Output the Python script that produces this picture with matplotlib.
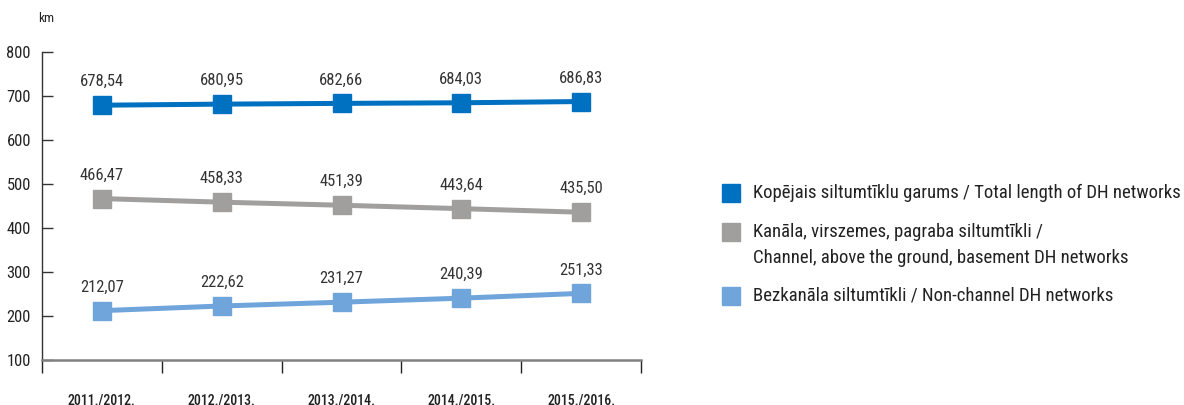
import matplotlib
matplotlib.use("Agg")
import matplotlib.pyplot as plt
from matplotlib.patches import Rectangle
from matplotlib import font_manager as fm

categories = ["2011./2012.", "2012./2013.", "2013./2014.", "2014./2015.", "2015./2016."]
total = [678.54, 680.95, 682.66, 684.03, 686.83]
channel = [466.47, 458.33, 451.39, 443.64, 435.50]
nonchannel = [212.07, 222.62, 231.27, 240.39, 251.33]
yticks = [100, 200, 300, 400, 500, 600, 700, 800]

series = [
    (total, "#0070C0", "Kopējais siltumtīklu garums / Total length of DH networks"),
    (channel, "#A09F9E", "Kanāla, virszemes, pagraba siltumtīkli /\nChannel, above the ground, basement DH networks"),
    (nonchannel, "#6FA5DA", "Bezkanāla siltumtīkli / Non-channel DH networks"),
]

# pick a condensed face if one is installed
fp_reg = None
fp_med = None
cands = []
for f in fm.fontManager.ttflist:
    low = f.fname.lower()
    if ("narrow" in low or "condensed" in low) and "italic" not in low and "oblique" not in low:
        cands.append(f)
pref = ["roboto", "liberation", "opensans", "open", "noto", "dejavu"]
def rank(f):
    low = f.fname.lower()
    for i, p in enumerate(pref):
        if p in low:
            return i
    return 99
def wnum(f):
    return f.weight if isinstance(f.weight, int) else (700 if "bold" in str(f.weight) else 400)
cands.sort(key=rank)
if cands:
    best = rank(cands[0])
    fam = [f for f in cands if rank(f) == best]
    regs = [f for f in fam if wnum(f) == 400 and "light" not in f.fname.lower() and "thin" not in f.fname.lower()]
    if regs:
        fp_reg = regs[0].fname
    meds = sorted([f for f in fam if 500 <= wnum(f) <= 700], key=lambda f: abs(wnum(f) - 500))
    if meds:
        fp_med = meds[0].fname
if fp_reg is not None:
    reg = dict(fontproperties=fm.FontProperties(fname=fp_reg))
    med = dict(fontproperties=fm.FontProperties(fname=fp_med if fp_med else fp_reg))
else:
    plt.rcParams['font.family'] = ['Liberation Sans', 'DejaVu Sans']
    reg = dict()
    med = dict()

W, H = 1184, 405
fig = plt.figure(figsize=(W / 100, H / 100), dpi=100)
renderer = fig.canvas.get_renderer()

def fitsize(text, target_px, props, weight="normal"):
    t = fig.text(0, 0, text, fontsize=10, fontweight=weight, **props)
    w = t.get_window_extent(renderer).width
    t.remove()
    return 10 * target_px / w

fs_leg = min(14, fitsize("Kopējais siltumtīklu garums / Total length of DH networks", 427, reg))
fs_dat = min(12.5, fitsize("678,54", 44, reg))
fs_tick = min(12.5, fitsize("800", 24, reg))
fs_x = min(11.5, fitsize("2011./2012.", 68, med, "bold" if fp_reg is None else "normal"))
fs_km = min(10.5, fitsize("km", 16, reg))

def P(props, size):
    if "fontproperties" in props:
        p = props["fontproperties"].copy()
        p.set_size(size)
        return dict(fontproperties=p)
    return dict(fontsize=size)

ax = fig.add_axes([42 / W, (H - 360) / H, 599 / W, (360 - 51.7) / H])

x = list(range(len(categories)))
for vals, col, lab in series:
    ax.plot(x, vals, color=col, lw=3.6, marker="s", markersize=13, solid_capstyle="butt", zorder=3)
    for xi, v in zip(x, vals):
        ax.annotate(f"{v:.2f}".replace(".", ","), (xi, v), xytext=(0, 11.5), textcoords="offset points",
                    ha="center", va="bottom", color="#333333", **P(reg, fs_dat))

ax.set_xlim(-0.5, len(categories) - 0.5)
ax.set_ylim(100, 800)
ax.set_yticks(yticks)
ax.set_yticklabels([str(t) for t in yticks], color="#222222", **P(reg, fs_tick))
ax.tick_params(axis="y", direction="in", length=8, width=1, color="#333333", pad=8)

ax.set_xticks([i - 0.5 for i in range(len(categories) + 1)])
ax.set_xticklabels([])
ax.set_xticks(x, minor=True)
xl = ax.set_xticklabels(categories, minor=True, color="#222222", **P(med, fs_x))
if fp_reg is None:
    for t in xl:
        t.set_fontweight("bold")
ax.tick_params(axis="x", which="major", direction="out", length=9.5, width=1, color="#222222")
ax.tick_params(axis="x", which="minor", length=0, pad=24)

for s in ["top", "right"]:
    ax.spines[s].set_visible(False)
ax.spines["left"].set_color("#333333")
ax.spines["left"].set_linewidth(1)
ax.spines["bottom"].set_color("#808080")
ax.spines["bottom"].set_linewidth(1.8)

fig.text(38 / W, 1 - 19 / H, "km", color="#222222", va="center", ha="left", **P(reg, fs_km))

# legend
leg_y = [193, 232, 296]
for (vals, col, lab), yy in zip(series, leg_y):
    fig.patches.append(Rectangle((722 / W, 1 - (yy + 9) / H), 18 / W, 18 / H, color=col,
                                 transform=fig.transFigure, figure=fig))
    for k, line in enumerate(lab.split("\n")):
        fig.text(753 / W, 1 - (yy + 26 * k) / H, line, color="#222222", va="center", ha="left",
                 **P(reg, fs_leg))

fig.savefig("out.png", dpi=100)
